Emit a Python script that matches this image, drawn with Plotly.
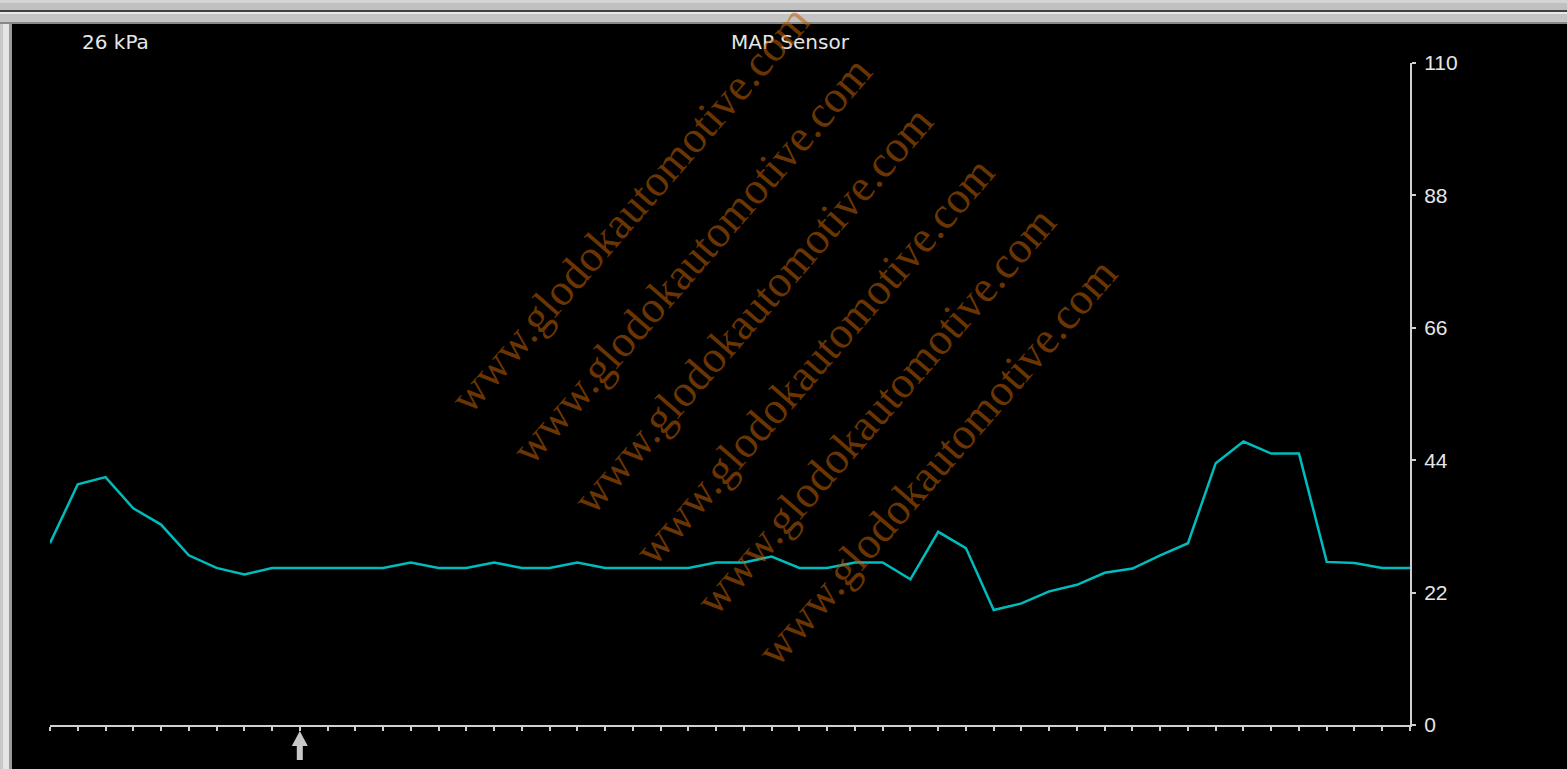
import plotly.graph_objects as go

# ---- data ----
sample_index = list(range(50))
map_kpa = [30.2, 40.0, 41.2, 36.0, 33.3, 28.2, 26.1, 25.0, 26.1, 26.1,
           26.1, 26.1, 26.1, 27.0, 26.1, 26.1, 27.0, 26.1, 26.1, 27.0,
           26.1, 26.1, 26.1, 26.1, 27.0, 27.0, 28.0, 26.1, 26.1, 27.0,
           27.0, 24.2, 32.1, 29.4, 19.1, 20.2, 22.2, 23.3, 25.3, 26.0,
           28.2, 30.2, 43.5, 47.1, 45.1, 45.1, 27.1, 26.9, 26.1, 26.1]
y_ticks = [0, 22, 44, 66, 88, 110]
title_text = "MAP Sensor"
value_text = "26 kPa"
cursor_index = 9
watermark = "www.glodokautomotive.com"

# ---- geometry (pixels) ----
W, H = 1567, 769
L, R, T, B = 50, 1410, 63, 725
PW, PH = R - L, B - T


def px(x):
    return (x - L) / PW


def py(y):
    return (B - y) / PH


fig = go.Figure()
fig.add_trace(go.Scatter(x=sample_index, y=map_kpa, mode="lines",
                         line=dict(color="#00bcbc", width=2.5),
                         hoverinfo="skip", showlegend=False))

shapes = []
# window frame (top bars)
for y0, y1, c in [(0, 3, "#d4d4d4"), (3, 10, "#c0c0c0"), (10, 12, "#404040"),
                  (12, 14, "#e8e8e8"), (14, 22, "#c4c4c4"), (22, 24, "#888888")]:
    shapes.append(dict(type="rect", xref="paper", yref="paper",
                       x0=px(0), x1=px(W), y0=py(y0), y1=py(y1),
                       fillcolor=c, line=dict(width=0), layer="above"))
# left frame
for x0, x1, c in [(0, 3, "#c8c8c8"), (3, 9, "#e4e4e4"), (9, 12, "#9a9a9a")]:
    shapes.append(dict(type="rect", xref="paper", yref="paper",
                       x0=px(x0), x1=px(x1), y0=py(24), y1=py(H),
                       fillcolor=c, line=dict(width=0), layer="above"))
# cursor arrow below the x axis
shapes.append(dict(type="path", xref="x", yref="paper",
                   xsizemode="pixel", ysizemode="pixel",
                   xanchor=cursor_index, yanchor=0,
                   path="M 0 -6 L 8 -21 L 3 -21 L 3 -35 L -3 -35 L -3 -21 L -8 -21 Z",
                   fillcolor="#c8c8c8", line=dict(width=0), layer="above"))

annotations = [
    dict(text=value_text, xref="paper", yref="paper", x=px(80), y=py(42),
         xanchor="left", yanchor="middle", showarrow=False,
         font=dict(family="DejaVu Sans", size=20, color="#e6e6e6")),
    dict(text=title_text, xref="paper", yref="paper", x=px(791), y=py(42),
         xanchor="center", yanchor="middle", showarrow=False,
         font=dict(family="DejaVu Sans", size=20, color="#e6e6e6")),
]
for k in range(6):
    cx = 630 + 61.4 * k
    cy = 209 + 50.6 * k
    annotations.append(dict(text=watermark, xref="paper", yref="paper",
                            x=px(cx), y=py(cy), xanchor="center", yanchor="middle",
                            showarrow=False, textangle=-49,
                            font=dict(family="Liberation Serif", size=45,
                                      color="rgba(190,95,5,0.58)")))

fig.update_layout(
    width=W, height=H, autosize=False,
    margin=dict(l=L, r=W - R, t=T, b=H - B, pad=0),
    paper_bgcolor="black", plot_bgcolor="black",
    shapes=shapes, annotations=annotations,
    xaxis=dict(range=[0, 49], dtick=1, tick0=0, showgrid=False, zeroline=False,
               showline=True, linecolor="#d0d0d0", linewidth=2,
               ticks="outside", ticklen=4, tickwidth=2, tickcolor="#d0d0d0",
               showticklabels=False, fixedrange=True),
    yaxis=dict(range=[0, 110], tickvals=y_ticks, side="right", showgrid=False,
               zeroline=False, showline=True, linecolor="#d0d0d0", linewidth=2,
               ticks="outside", ticklen=4, tickwidth=2, tickcolor="#d0d0d0",
               ticklabelstandoff=4,
               tickfont=dict(family="Liberation Sans", size=21, color="#e6e6e6"),
               fixedrange=True),
)

fig.write_html("out.html", config={"displayModeBar": False},
               post_script="document.body.style.margin='0';document.body.style.overflow='hidden';")
